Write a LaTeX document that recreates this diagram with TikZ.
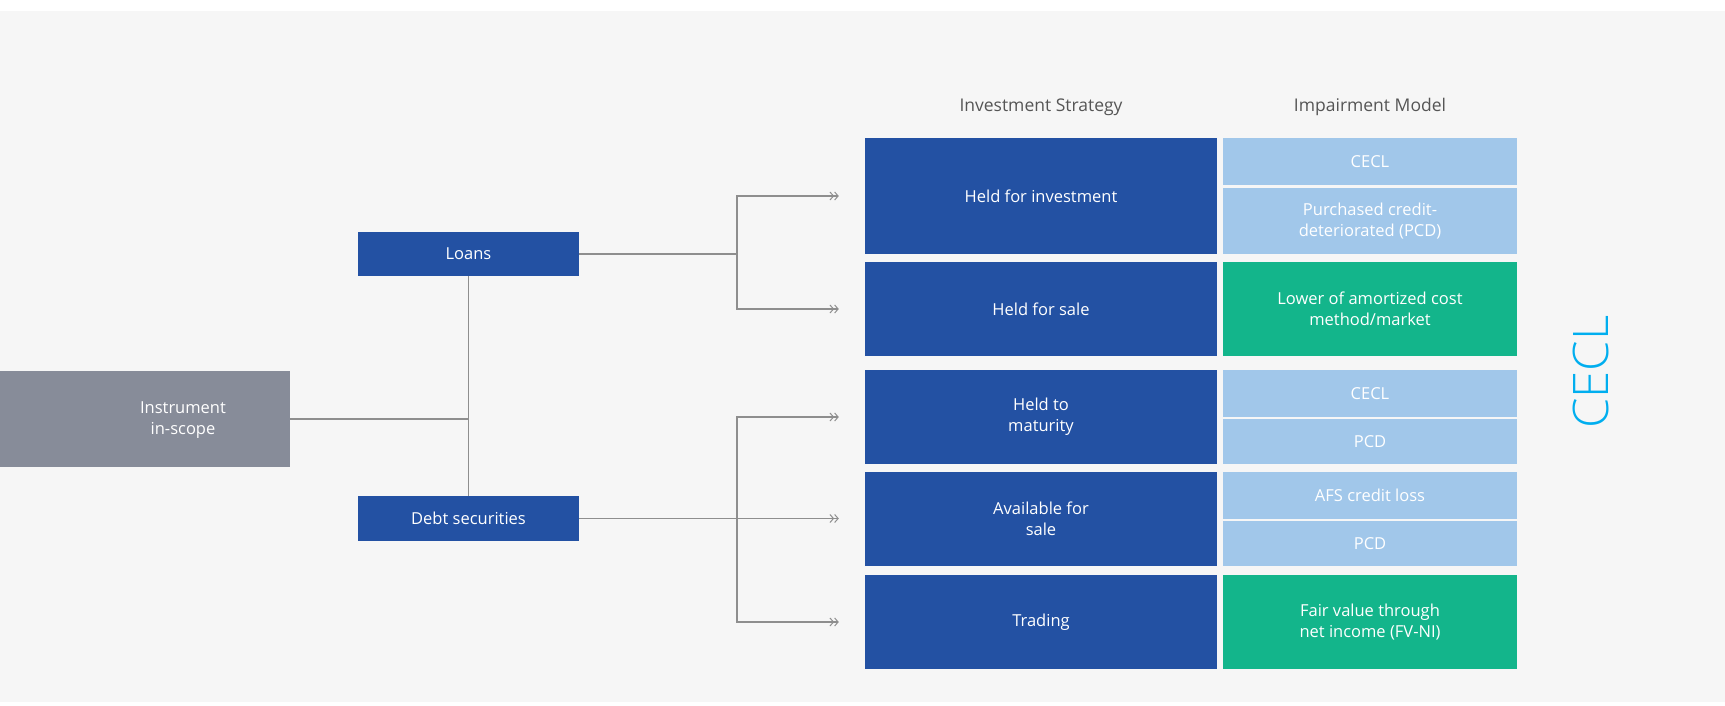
\documentclass[tikz,border=0pt]{standalone}
\usepackage{fontspec}
\setmainfont{Open Sans}
\newfontfamily\markfont{Open Sans Light}
\usetikzlibrary{arrows.meta}

\definecolor{pagebg}{HTML}{F6F6F6}
\definecolor{navy}{HTML}{2351A3}
\definecolor{skyblue}{HTML}{A1C7EA}
\definecolor{teal}{HTML}{13B58B}
\definecolor{slate}{HTML}{878C99}
\definecolor{wire}{HTML}{8E8E8E}
\definecolor{headgray}{HTML}{555555}
\definecolor{cyanmark}{HTML}{00AEEF}

\tikzset{
  cell/.style={draw=none, inner sep=0pt, text=white, align=center,
    font=\fontsize{16.5}{21}\selectfont},
  navycell/.style={cell, fill=navy},
  skycell/.style={cell, fill=skyblue},
  tealcell/.style={cell, fill=teal},
  slatecell/.style={cell, fill=slate},
  celltext/.style={text=white, align=center, inner sep=0pt,
    font=\fontsize{16.5}{21}\selectfont},
  heading/.style={text=headgray, inner sep=0pt, font=\fontsize{17.5}{21}\selectfont},
  wireline/.style={draw=wire, line width=1.1pt},
  feed/.style={wireline, shorten >=26pt,
    -{Straight Barb[length=3.5pt,width=8pt,line width=1pt] Straight Barb[length=3.5pt,width=8pt,line width=1pt]}},
}

\begin{document}
\begin{tikzpicture}[x=1pt,y=-1pt]
  % canvas
  \useasboundingbox (0,0) rectangle (1725,706);
  \fill[white] (0,0) rectangle (1725,706);
  \fill[pagebg] (0,11) rectangle (1725,702);

  % source instrument
  \node[slatecell, minimum width=290pt, minimum height=96pt] (instr) at (145,419) {};
  \node[celltext] (instrtxt) at (183,420.5) {Instrument\\in-scope};

  % instrument types
  \node[navycell, minimum width=221pt, minimum height=44pt] (loans) at (468.5,254) {Loans};
  \node[navycell, minimum width=221pt, minimum height=45pt] (debt) at (468.5,518.5) {Debt securities};

  % column headings
  \node[heading] (hstrat) at (1041,107) {Investment Strategy};
  \node[heading] (hmodel) at (1370,107) {Impairment Model};

  % investment strategies
  \node[navycell, minimum width=352pt, minimum height=116pt] (hfi) at (1041,196) {Held for investment};
  \node[navycell, minimum width=352pt, minimum height=94pt] (hfs) at (1041,309) {Held for sale};
  \node[navycell, minimum width=352pt, minimum height=94pt] (hta) at (1041,417) {Held to\\maturity};
  \node[navycell, minimum width=352pt, minimum height=94pt] (afs) at (1041,519) {Available for\\sale};
  \node[navycell, minimum width=352pt, minimum height=94pt] (trd) at (1041,622) {Trading};

  % impairment models
  \node[skycell, minimum width=294pt, minimum height=47pt] (cecla) at (1370,161.5) {CECL};
  \node[skycell, minimum width=294pt, minimum height=66pt] (pcda) at (1370,221) {Purchased credit-\\deteriorated (PCD)};
  \node[tealcell, minimum width=294pt, minimum height=94pt] (locom) at (1370,309) {Lower of amortized cost\\method/market};
  \node[skycell, minimum width=294pt, minimum height=47pt] (ceclb) at (1370,393.5) {CECL};
  \node[skycell, minimum width=294pt, minimum height=45pt] (pcdb) at (1370,441.5) {PCD};
  \node[skycell, minimum width=294pt, minimum height=47pt] (afsloss) at (1370,495.5) {AFS credit loss};
  \node[skycell, minimum width=294pt, minimum height=45pt] (pcdc) at (1370,543.5) {PCD};
  \node[tealcell, minimum width=294pt, minimum height=94pt] (fvni) at (1370,622) {Fair value through\\net income (FV-NI)};

  % vertical CECL mark
  \node[text=cyanmark, inner sep=0pt, rotate=90, font=\markfont\fontsize{49}{50}\selectfont] (ceclmark) at (1591,372) {CECL};

  % connectors: instrument to types
  \draw[wireline] (loans.south) -- (debt.north);
  \draw[wireline] (instr.east) -- (instr.east -| loans.south);

  % connectors: loans to strategies
  \coordinate (jl) at (737,254);
  \draw[wireline] (loans.east) -- (jl);
  \draw[feed] (jl) |- (hfi.west);
  \draw[feed] (jl) |- (hfs.west);

  % connectors: debt securities to strategies
  \coordinate (jd) at (737,518.5);
  \draw[feed] (debt.east) -- (debt.east -| afs.west);
  \draw[feed] (jd) |- (hta.west);
  \draw[feed] (jd) |- (trd.west);
\end{tikzpicture}
\end{document}
